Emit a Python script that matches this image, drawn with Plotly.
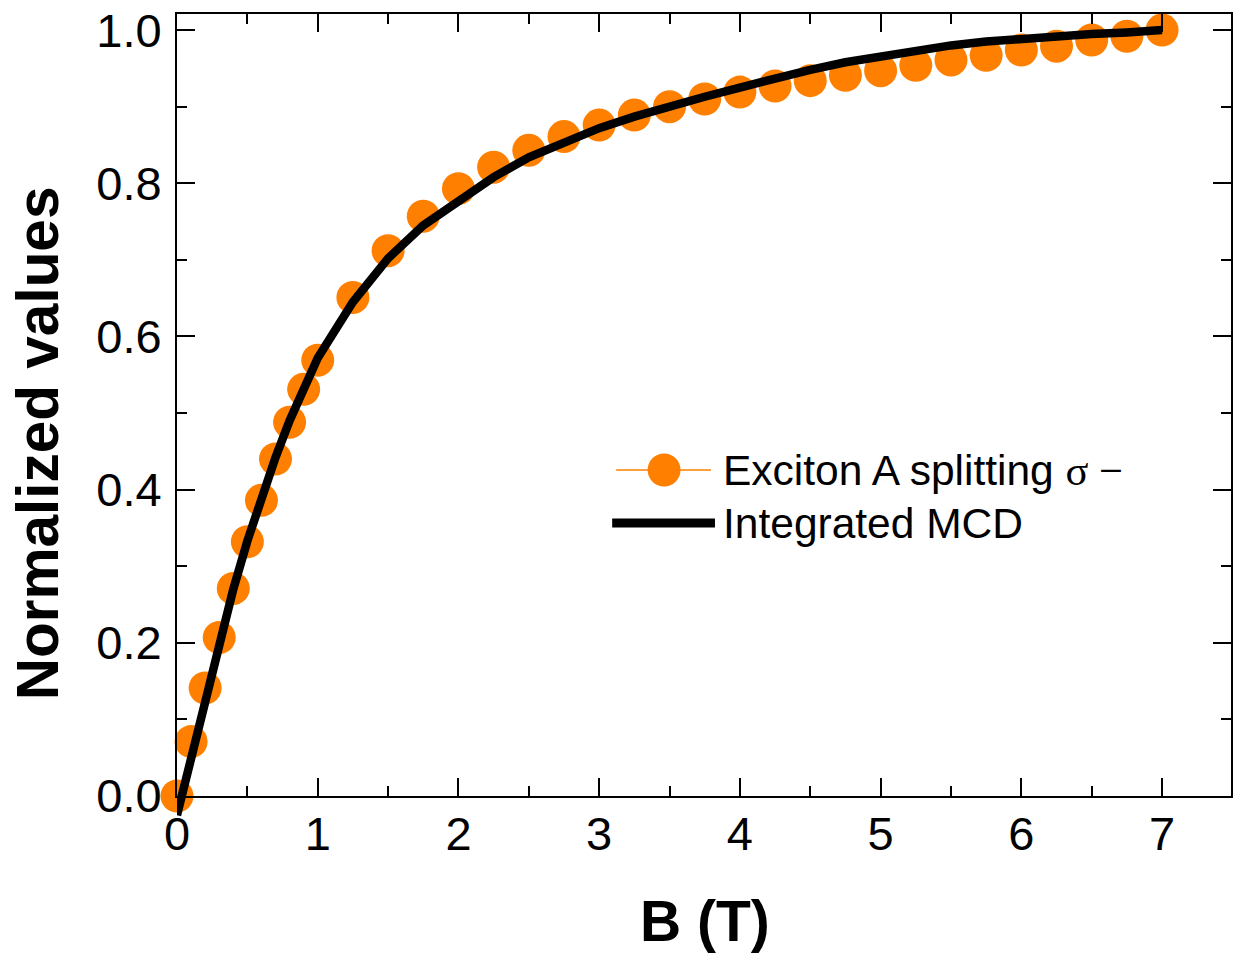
import plotly.graph_objects as go

# Magnetic field grid (T)
field_T = [0.0, 0.1, 0.2, 0.3, 0.4, 0.5, 0.6, 0.7, 0.8, 0.9, 1.0,
           1.25, 1.5, 1.75, 2.0, 2.25, 2.5, 2.75, 3.0, 3.25, 3.5, 3.75,
           4.0, 4.25, 4.5, 4.75, 5.0, 5.25, 5.5, 5.75, 6.0, 6.25, 6.5,
           6.75, 7.0]

# Normalized exciton A splitting (sigma-)
splitting = [0.000, 0.071, 0.141, 0.207, 0.271, 0.332, 0.386, 0.440, 0.488,
             0.531, 0.569, 0.651, 0.712, 0.757, 0.793, 0.821, 0.843, 0.861,
             0.876, 0.889, 0.900, 0.910, 0.919, 0.927, 0.934, 0.941, 0.947,
             0.954, 0.961, 0.967, 0.974, 0.979, 0.987, 0.992, 1.000]

# Normalized integrated MCD signal
mcd = [-0.025, 0.050, 0.125, 0.200, 0.270, 0.333, 0.390, 0.442, 0.490,
       0.533, 0.572, 0.645, 0.702, 0.745, 0.778, 0.808, 0.834, 0.854,
       0.872, 0.887, 0.901, 0.913, 0.925, 0.937, 0.948, 0.958, 0.966,
       0.974, 0.980, 0.985, 0.989, 0.992, 0.995, 0.997, 1.000]

x_ticks = [0, 1, 2, 3, 4, 5, 6, 7]
y_ticks = [0.0, 0.2, 0.4, 0.6, 0.8, 1.0]
y_tick_text = ["0.0", "0.2", "0.4", "0.6", "0.8", "1.0"]

ORANGE = "#FF8000"
FONT = "Arial, Liberation Sans, sans-serif"

W, H = 1234, 953
X_RANGE = [0, 7.49]
Y_RANGE = [0, 1.021]

# Outer drawing region (the MCD curve may run a little past the frame)
ML, MR, MT, MB = 177, 1, 14, 100
PW, PH = W - ML - MR, H - MT - MB
FRAME_BOTTOM = 796          # pixel row of the visible bottom axis
frame_lo = (H - MB - FRAME_BOTTOM) / PH
units_per_px = (Y_RANGE[1] - Y_RANGE[0]) / ((1 - frame_lo) * PH)
y2_range = [Y_RANGE[0] - (H - MB - FRAME_BOTTOM) * units_per_px, Y_RANGE[1]]


def px(x):
    return (x - ML) / PW


def py(y):
    return (H - MB - y) / PH


fig = go.Figure()
fig.add_trace(go.Scatter(
    x=field_T, y=splitting, mode="markers", name="Exciton A splitting σ −",
    marker=dict(size=33, color=ORANGE, line=dict(width=0)),
    cliponaxis=False, showlegend=False, xaxis="x", yaxis="y"))
fig.add_trace(go.Scatter(
    x=field_T, y=mcd, mode="lines", name="Integrated MCD",
    line=dict(color="black", width=8.5),
    cliponaxis=False, showlegend=False, xaxis="x2", yaxis="y2"))

axis_common = dict(
    showline=True, linecolor="black", linewidth=2, mirror="ticks",
    ticks="inside", ticklen=18, tickwidth=2, tickcolor="black",
    showgrid=False, zeroline=False,
    tickfont=dict(family=FONT, size=47, color="black"),
)

fig.update_layout(
    xaxis=dict(range=X_RANGE, tickvals=x_ticks, domain=[0, 1], anchor="y",
               minor=dict(ticks="inside", ticklen=10, tickwidth=2,
                          tickcolor="black", dtick=0.5, showgrid=False),
               ticklabelstandoff=-4, **axis_common),
    yaxis=dict(range=Y_RANGE, tickvals=y_ticks, ticktext=y_tick_text,
               domain=[frame_lo, 1], anchor="x",
               minor=dict(ticks="inside", ticklen=10, tickwidth=2,
                          tickcolor="black", dtick=0.1, showgrid=False),
               ticklabelstandoff=4, **axis_common),
    xaxis2=dict(range=X_RANGE, domain=[0, 1], anchor="y2", visible=False,
                showgrid=False, zeroline=False),
    yaxis2=dict(range=y2_range, domain=[0, 1], anchor="x2", visible=False,
                showgrid=False, zeroline=False),
)

# Legend drawn by hand
leg_y1, leg_y2 = 470, 523
shapes = [
    dict(type="line", xref="paper", yref="paper",
         x0=px(617), x1=px(712), y0=py(leg_y1), y1=py(leg_y1),
         line=dict(color=ORANGE, width=1.5)),
    dict(type="circle", xref="paper", yref="paper",
         xsizemode="pixel", ysizemode="pixel",
         xanchor=px(665), yanchor=py(leg_y1),
         x0=-16.5, x1=16.5, y0=-16.5, y1=16.5,
         fillcolor=ORANGE, line=dict(width=0)),
    dict(type="line", xref="paper", yref="paper",
         x0=px(613), x1=px(716), y0=py(leg_y2), y1=py(leg_y2),
         line=dict(color="black", width=9)),
]

annotations = [
    dict(text="Exciton A splitting <span style='font-family:Liberation Serif, Times New Roman, serif'>σ −</span>",
         xref="paper", yref="paper", x=px(722), y=py(leg_y1),
         xanchor="left", yanchor="middle", showarrow=False,
         font=dict(family=FONT, size=42.5, color="black")),
    dict(text="Integrated MCD",
         xref="paper", yref="paper", x=px(722), y=py(leg_y2),
         xanchor="left", yanchor="middle", showarrow=False,
         font=dict(family=FONT, size=42.5, color="black")),
    dict(text="<b>B (T)</b>", xref="paper", yref="paper",
         x=px(706), y=py(921), xanchor="center", yanchor="middle",
         showarrow=False, font=dict(family=FONT, size=57, color="black")),
    dict(text="<b>Normalized values</b>", xref="paper", yref="paper",
         x=px(38), y=py(443), xanchor="center", yanchor="middle",
         textangle=-90, showarrow=False,
         font=dict(family=FONT, size=58.5, color="black")),
]

fig.update_layout(
    width=W, height=H,
    margin=dict(l=ML, r=MR, t=MT, b=MB),
    paper_bgcolor="white", plot_bgcolor="rgba(0,0,0,0)",
    shapes=shapes, annotations=annotations,
    showlegend=False,
)

fig.write_html("out.html")
